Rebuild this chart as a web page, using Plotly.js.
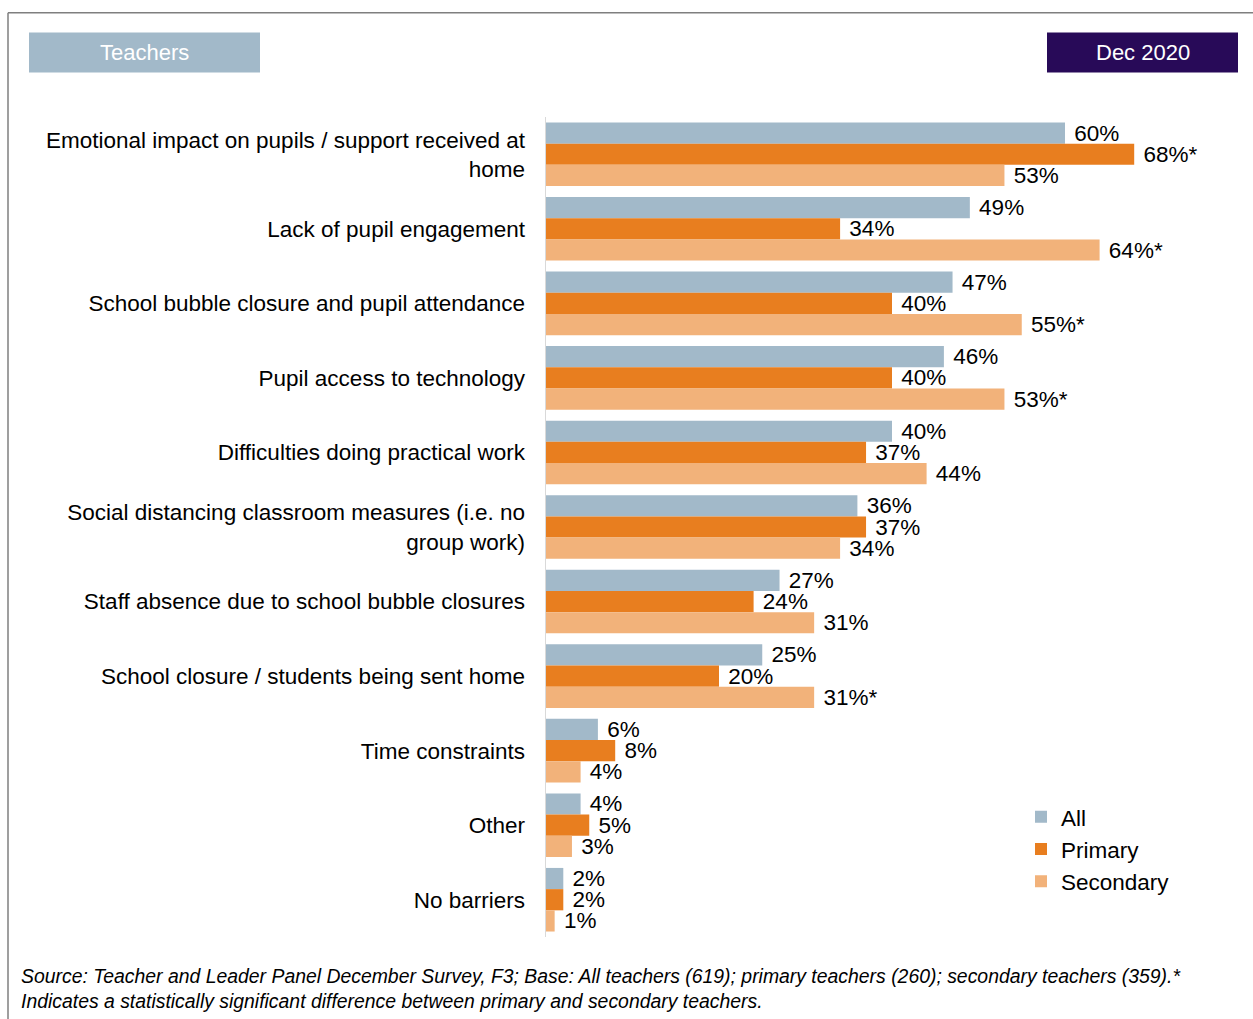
<!DOCTYPE html>
<html>
<head>
<meta charset="utf-8">
<script src="https://cdn.plot.ly/plotly-3.0.1.min.js"></script>
<style>
  html, body { margin: 0; padding: 0; background: #fff; }
  #chart { width: 1253px; height: 1019px; }
</style>
</head>
<body>
<div id="chart"></div>
<script>
// ---- Data ----
const categories = [
  "Emotional impact on pupils / support received at<br>home",
  "Lack of pupil engagement",
  "School bubble closure and pupil attendance",
  "Pupil access to technology",
  "Difficulties doing practical work",
  "Social distancing classroom measures (i.e. no<br>group work)",
  "Staff absence due to school bubble closures",
  "School closure / students being sent home",
  "Time constraints",
  "Other",
  "No barriers"
];
const allValues       = [60, 49, 47, 46, 40, 36, 27, 25, 6, 4, 2];
const primaryValues   = [68, 34, 40, 40, 37, 37, 24, 20, 8, 5, 2];
const secondaryValues = [53, 64, 55, 53, 44, 34, 31, 31, 4, 3, 1];
// significance markers (*)
const primarySig   = [true, false, false, false, false, false, false, false, false, false, false];
const secondarySig = [false, true, true, true, false, false, false, true, false, false, false];

const seriesNames = ["All", "Primary", "Secondary"];
const headerLeft = "Teachers";
const headerRight = "Dec 2020";
const footnote = "Source: Teacher and Leader Panel December Survey, F3; Base: All teachers (619); primary teachers (260); secondary teachers (359).*<br>Indicates a statistically significant difference between primary and secondary teachers.";

// ---- Layout geometry (pixels) ----
const W = 1253, H = 1019;
const L = 546, R = 1200, T = 116.5, B = 937.5;
const px2x = p => (p - L) / (R - L);
const px2y = p => 1 - (p - T) / (B - T);
const xMax = (R - L) / ((1065 - L) / 60);

const colors = ["#A2B9C9", "#E87E1F", "#F2B27A"];
const FONT = "Liberation Sans, Arial, sans-serif";
const fs = 22.5;

function labels(vals, sig) {
  return vals.map((v, i) => " " + v + "%" + (sig && sig[i] ? "*" : ""));
}

const valuesList = [allValues, primaryValues, secondaryValues];
const sigList = [null, primarySig, secondarySig];

const traces = valuesList.map((vals, k) => ({
  type: "bar",
  orientation: "h",
  name: seriesNames[k],
  y: categories,
  x: vals,
  text: labels(vals, sigList[k]),
  textposition: "outside",
  constraintext: "none",
  cliponaxis: false,
  textfont: { family: FONT, size: fs, color: "#000" },
  marker: { color: colors[k], line: { width: 0 } },
  hoverinfo: "skip"
}));

const shapes = [
  // frame
  { type: "line", xref: "paper", yref: "paper", x0: px2x(8), x1: px2x(1260), y0: px2y(12), y1: px2y(12), line: { color: "#7f7f7f", width: 1.5 } },
  { type: "line", xref: "paper", yref: "paper", x0: px2x(8), x1: px2x(8), y0: px2y(12), y1: px2y(1025), line: { color: "#7f7f7f", width: 1.5 } },
  // header boxes
  { type: "rect", xref: "paper", yref: "paper", x0: px2x(29), x1: px2x(260), y0: px2y(32), y1: px2y(72), fillcolor: "#A2B9C9", line: { width: 0 } },
  { type: "rect", xref: "paper", yref: "paper", x0: px2x(1047), x1: px2x(1238), y0: px2y(32), y1: px2y(72), fillcolor: "#280A58", line: { width: 0 } }
];

const annotations = [
  { xref: "paper", yref: "paper", x: px2x(144.5), y: px2y(52), text: headerLeft, showarrow: false, xanchor: "center", yanchor: "middle", font: { family: FONT, size: 22, color: "#fff" } },
  { xref: "paper", yref: "paper", x: px2x(1142.5), y: px2y(52), text: headerRight, showarrow: false, xanchor: "center", yanchor: "middle", font: { family: FONT, size: 22, color: "#fff" } },
  { xref: "paper", yref: "paper", x: px2x(19), y: px2y(964), text: "<i>" + footnote + "</i>", showarrow: false, xanchor: "left", yanchor: "top", align: "left", font: { family: FONT, size: 19.4, color: "#000" } }
];

const layout = {
  width: W, height: H,
  margin: { l: L, r: W - R, t: T, b: H - B, pad: 0 },
  paper_bgcolor: "#fff", plot_bgcolor: "#fff",
  barmode: "group", bargap: 0.147, bargroupgap: 0,
  font: { family: FONT, size: fs, color: "#000" },
  xaxis: { range: [0, xMax], showgrid: false, zeroline: false, showline: false, showticklabels: false, ticks: "", fixedrange: true },
  yaxis: {
    type: "category", autorange: false, range: [categories.length - 0.5, -0.5],
    showgrid: false, zeroline: false, showline: true, linecolor: "#d9d9d9", linewidth: 1.5,
    ticks: "", ticklabelstandoff: 15,
    tickfont: { family: FONT, size: fs, color: "#000" }
  },
  showlegend: true,
  legend: {
    x: px2x(1021), y: px2y(796), xanchor: "left", yanchor: "top",
    traceorder: "normal", bgcolor: "rgba(0,0,0,0)",
    font: { family: FONT, size: fs, color: "#000" },
    itemwidth: 30
  },
  shapes: shapes,
  annotations: annotations
};

Plotly.newPlot("chart", traces, layout, { displayModeBar: false, staticPlot: true });
</script>
</body>
</html>
